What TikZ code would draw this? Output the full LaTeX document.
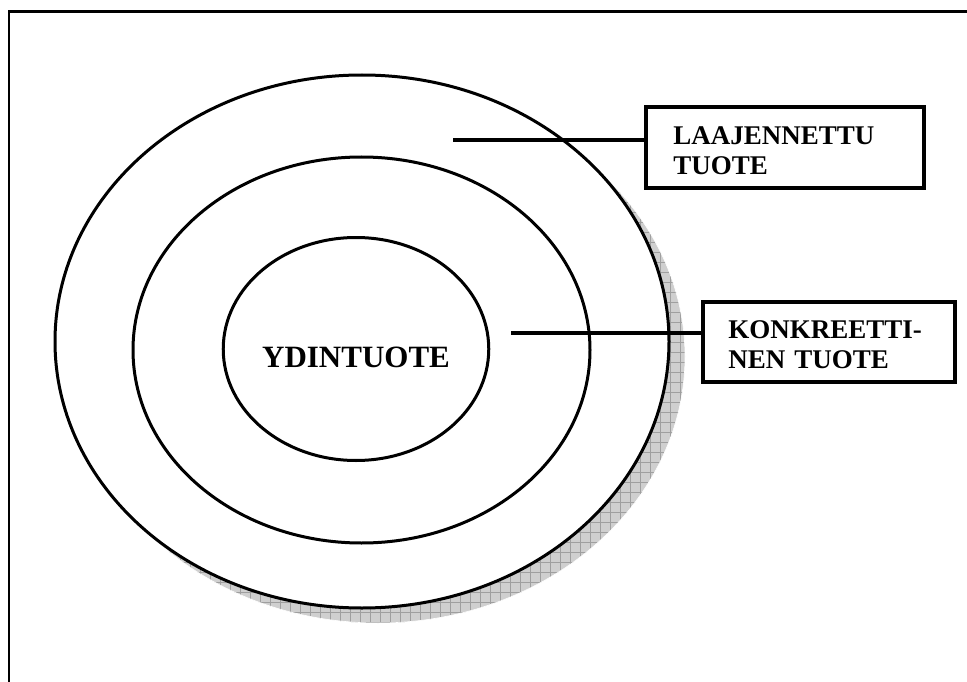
\documentclass[tikz,border=0pt]{standalone}
\usepackage{fontspec}
\setmainfont{Liberation Serif}
\usetikzlibrary{shapes.geometric,patterns.meta}

\tikzset{
  ring/.style={draw=black, line width=3pt, ellipse, inner sep=0pt},
  labelbox/.style={draw=black, line width=3.6pt, fill=white},
  boxtext/.style={align=left, font=\bfseries\fontsize{27}{30}\selectfont, inner sep=0pt},
  link/.style={draw=black, line width=3.2pt},
  shadowfill/.style={fill=gray!38},
  shadowgrid/.style={pattern={Lines[angle=0,distance=10pt,line width=0.6pt]}, pattern color=gray!75},
  shadowgridv/.style={pattern={Lines[angle=90,distance=10pt,line width=0.6pt]}, pattern color=gray!75},
}

\begin{document}
\begin{tikzpicture}[x=1pt,y=-1pt]
  \useasboundingbox (0,0) rectangle (967,682);
  \clip (0,0) rectangle (967,682);

  % outer frame, running past the right and bottom edges
  \draw[line width=2.6pt] (9,11.5) rectangle (990,700);

  % drop shadow of the outer ring
  \fill[shadowfill]  (378,356.5) ellipse [x radius=307, y radius=266.5];
  \fill[shadowgrid]  (378,356.5) ellipse [x radius=307, y radius=266.5];
  \fill[shadowgridv] (378,356.5) ellipse [x radius=307, y radius=266.5];
  \draw[white, line width=0.6pt] (378,356.5) ellipse [x radius=307, y radius=266.5];

  % the three product rings
  \node[ring, fill=white, minimum width=614, minimum height=533] (outer) at (362,341.5) {};
  \node[ring, minimum width=457, minimum height=386] (middle) at (361.5,350) {};
  \node[ring, minimum width=264, minimum height=223,
        font=\bfseries\fontsize{31}{35}\selectfont] (core) at (356,349) {\raisebox{-18pt}[0pt][0pt]{YDINTUOTE}};

  % label boxes and their texts
  \node[labelbox, minimum width=278, minimum height=81] (ext) at (785,147.5) {};
  \node[boxtext, text width=222, anchor=west] (exttext) at ([shift={(29,3)}]ext.west) {LAAJENNETTU\\TUOTE};
  \node[labelbox, minimum width=252, minimum height=80] (con) at (829,342) {};
  \node[boxtext, text width=198, anchor=west] (context) at ([shift={(27,3)}]con.west) {KONKREETTI-\\NEN TUOTE};

  % connectors
  \coordinate (extstart) at (453,140);
  \coordinate (constart) at (511,333);
  \draw[link] (extstart) -- (extstart -| ext.west);
  \draw[link] (constart) -- (constart -| con.west);
\end{tikzpicture}
\end{document}
